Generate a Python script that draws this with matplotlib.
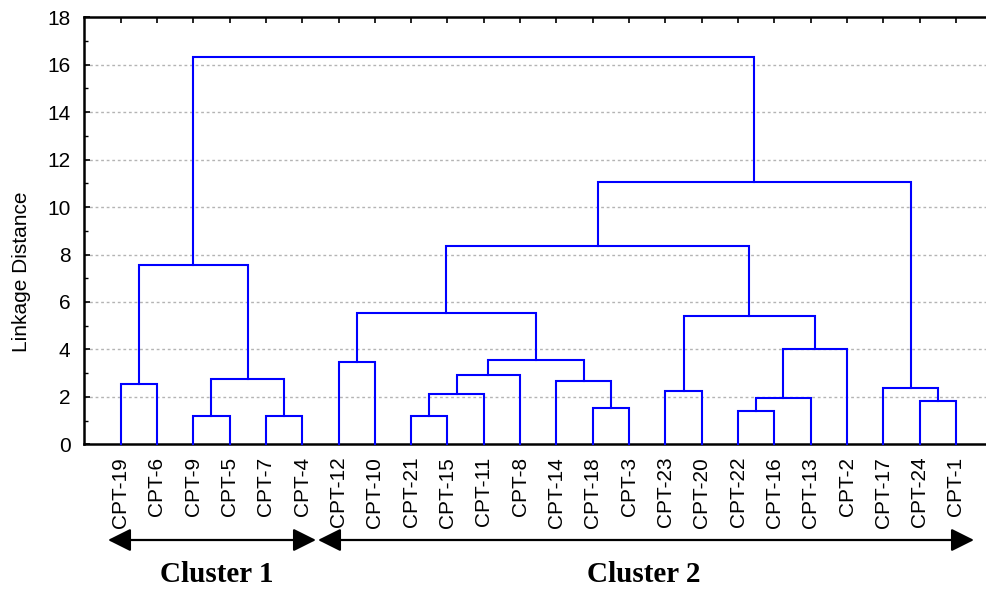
import matplotlib
matplotlib.use("Agg")
import matplotlib.pyplot as plt
from matplotlib.ticker import MultipleLocator

# ---- data ----
leaves = ["CPT-19", "CPT-6", "CPT-9", "CPT-5", "CPT-7", "CPT-4", "CPT-12", "CPT-10",
          "CPT-21", "CPT-15", "CPT-11", "CPT-8", "CPT-14", "CPT-18", "CPT-3", "CPT-23",
          "CPT-20", "CPT-22", "CPT-16", "CPT-13", "CPT-2", "CPT-17", "CPT-24", "CPT-1"]

# merges: node name, left child, right child, linkage distance
merge_names  = ["A", "B", "C", "D", "K1", "E", "F", "G", "H", "I", "J", "K", "L",
                "M", "N", "O", "P", "Q", "R", "S", "T", "U", "ROOT"]
merge_left   = ["CPT-19", "CPT-9", "CPT-7", "B", "A", "CPT-12", "CPT-21", "F", "G",
                "CPT-18", "CPT-14", "H", "E", "CPT-23", "CPT-22", "N", "O", "M", "L",
                "CPT-24", "CPT-17", "R", "K1"]
merge_right  = ["CPT-6", "CPT-5", "CPT-4", "C", "D", "CPT-10", "CPT-15", "CPT-11", "CPT-8",
                "CPT-3", "I", "J", "K", "CPT-20", "CPT-16", "CPT-13", "CPT-2", "P", "Q",
                "CPT-1", "S", "T", "U"]
merge_height = [2.56, 1.18, 1.18, 2.75, 7.57, 3.47, 1.19, 2.13, 2.94, 1.54, 2.67, 3.54,
                5.54, 2.26, 1.42, 1.94, 4.03, 5.42, 8.37, 1.84, 2.39, 11.05, 16.32]

cluster_names = ["Cluster 1", "Cluster 2"]

# ---- figure ----
W, H = 986, 593
fig = plt.figure(figsize=(W / 100, H / 100), dpi=100)
ax = fig.add_axes([84.3 / W, (H - 444.3) / H, 908 / W, 427 / H])

pos = {name: (i + 1, 0.0) for i, name in enumerate(leaves)}
for n, l, r, h in zip(merge_names, merge_left, merge_right, merge_height):
    xl, hl = pos[l]
    xr, hr = pos[r]
    ax.plot([xl, xl, xr, xr], [hl, h, h, hr], color="#0000ff", lw=1.5,
            solid_joinstyle="miter", zorder=3, clip_on=False)
    pos[n] = ((xl + xr) / 2, h)

ax.set_xlim(0, len(leaves) + 1)
ax.set_ylim(0, 18)
ax.yaxis.set_major_locator(MultipleLocator(2))
ax.yaxis.set_minor_locator(MultipleLocator(1))
ax.set_xticks(range(1, len(leaves) + 1))
ax.set_xticklabels(leaves, rotation=90, fontsize=15, family="Liberation Sans")
for t in ax.get_yticklabels():
    t.set_family("Liberation Sans")
ax.tick_params(axis="y", which="major", direction="in", length=4, width=1.2,
               labelsize=15, pad=10)
ax.tick_params(axis="y", which="minor", direction="in", length=3, width=1.0)
ax.tick_params(axis="x", direction="in", length=4, width=1.2, top=True, pad=9)

for y in range(2, 18, 2):
    ax.axhline(y, color="#b4b4b4", lw=1.0, ls=(0, (2, 2)), zorder=1)

for s in ["left", "top", "bottom"]:
    ax.spines[s].set_linewidth(1.8)
ax.spines["right"].set_visible(False)

# figure pixel helpers
def fx(px):
    return px / W

def fy(py):
    return 1 - py / H

fig.text(fx(22), fy(272), "Linkage Distance", rotation=90, ha="center", va="center",
         fontsize=15, family="Liberation Sans")

arrow_px = [(108, 316), (318, 974)]
label_px = [217, 644]
for name, (x0, x1), lx in zip(cluster_names, arrow_px, label_px):
    fig.add_artist(matplotlib.patches.FancyArrowPatch(
        (fx(x0), fy(540)), (fx(x1), fy(540)), transform=fig.transFigure,
        arrowstyle="<|-|>,head_length=10,head_width=5", mutation_scale=1.4,
        color="black", lw=1.6, shrinkA=0, shrinkB=0))
    fig.text(fx(lx), fy(575), name, ha="center", va="center", fontsize=21,
             fontweight="bold", family="Liberation Serif")

fig.savefig("out.png", dpi=100)
